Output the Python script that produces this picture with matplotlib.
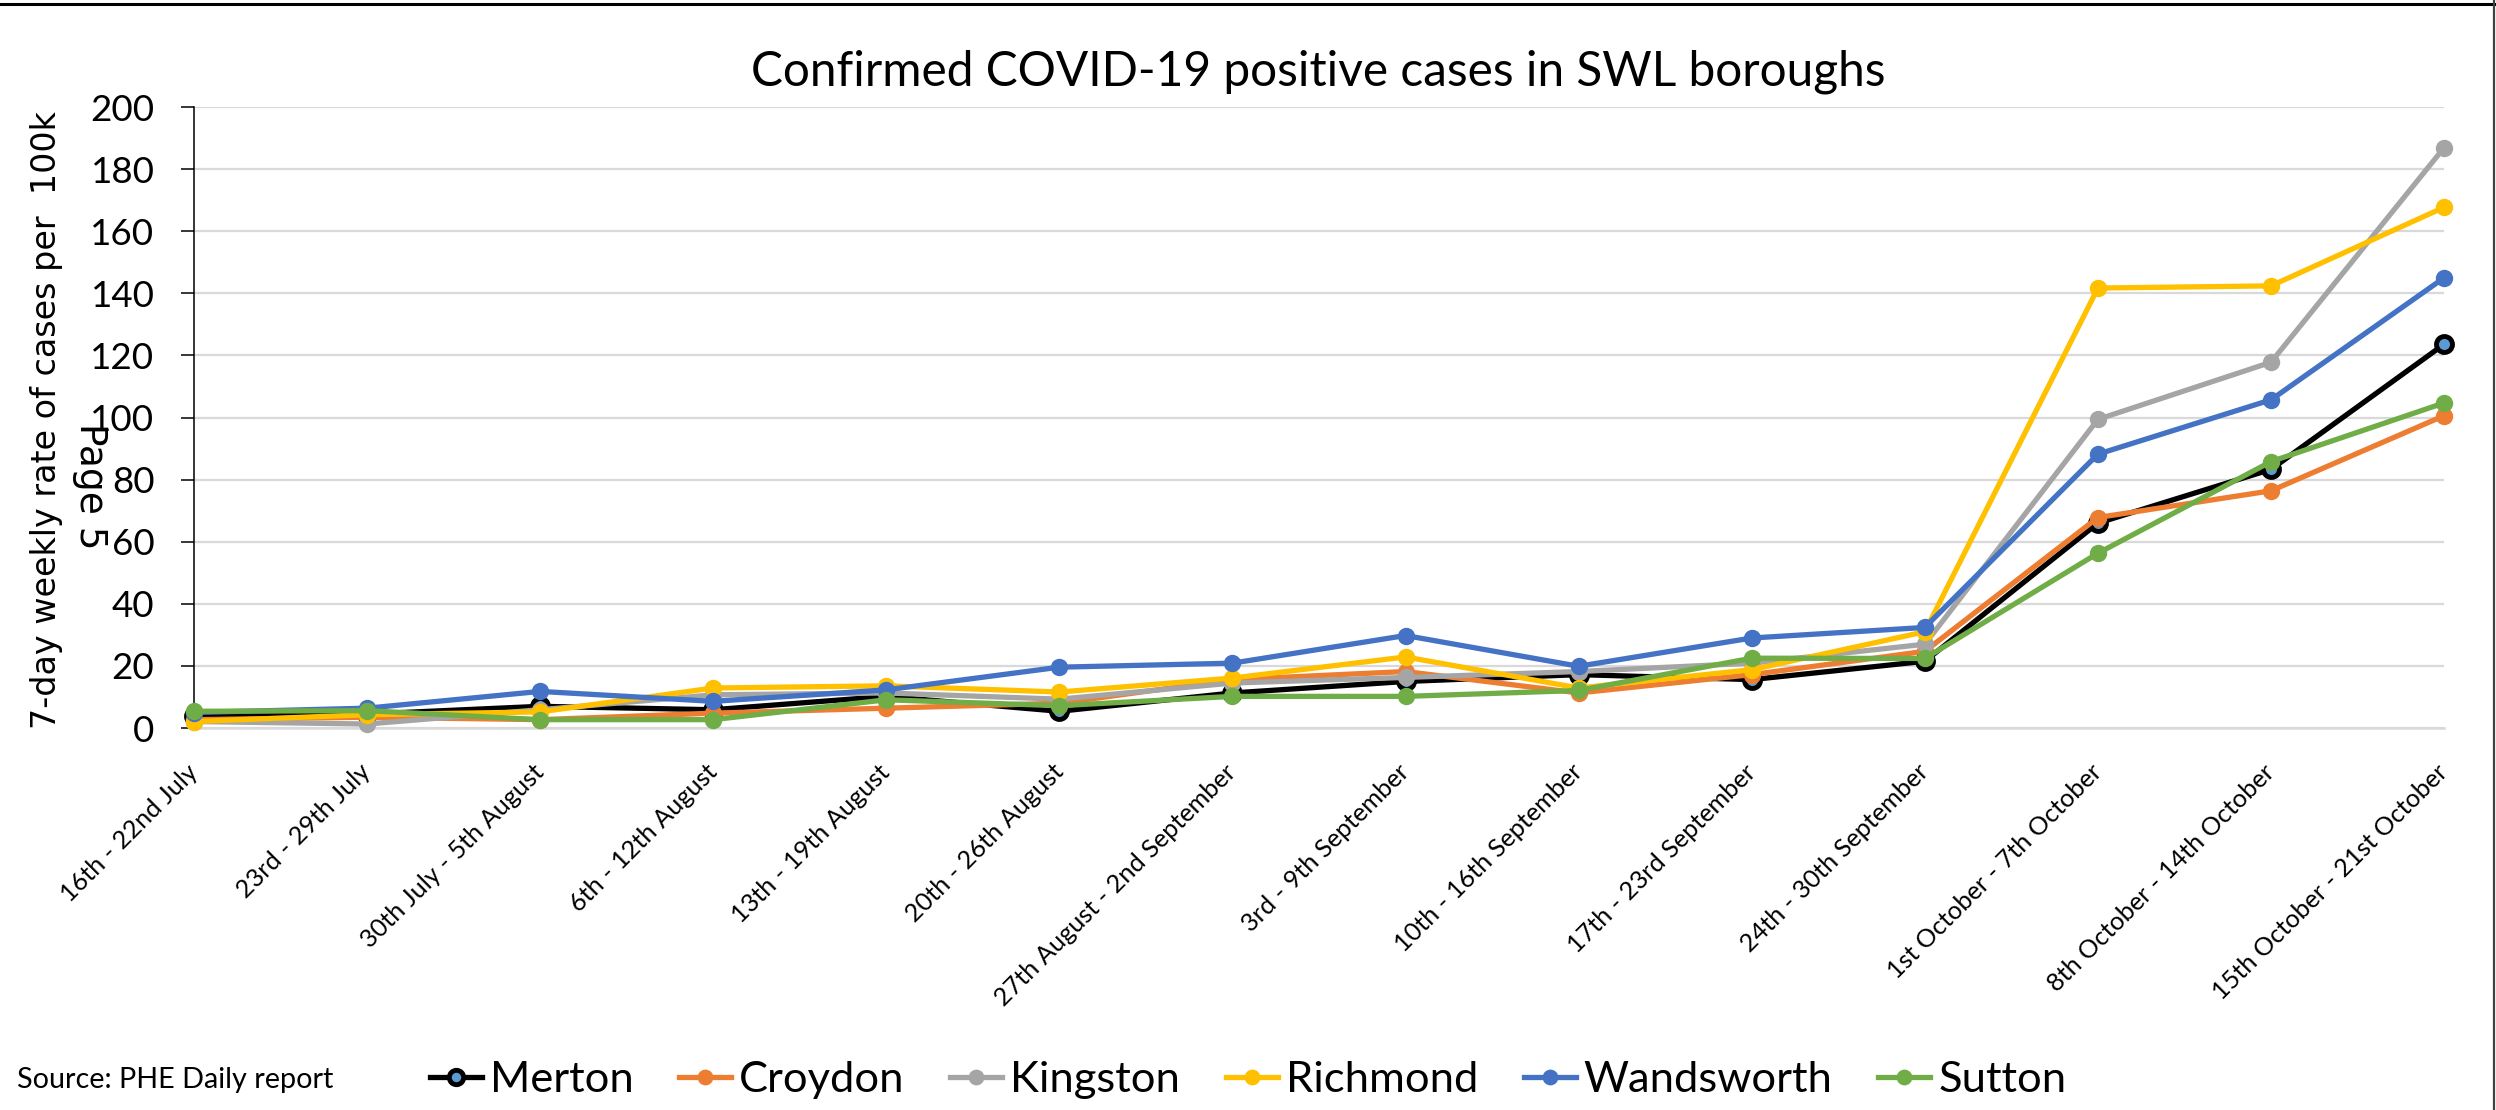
import matplotlib
matplotlib.use("Agg")
import matplotlib.pyplot as plt
from matplotlib.lines import Line2D

plt.rcParams['font.family'] = ['Lato', 'DejaVu Sans']

# weekly periods (x categories)
weeks = ["16th - 22nd July", "23rd - 29th July", "30th July - 5th August",
         "6th - 12th August", "13th - 19th August", "20th - 26th August",
         "27th August - 2nd September", "3rd - 9th September",
         "10th - 16th September", "17th - 23rd September",
         "24th - 30th September", "1st October - 7th October",
         "8th October - 14th October", "15th October - 21st October"]

# 7-day rate per 100k
merton = [3.8, 4.5, 7.0, 5.9, 10.2, 5.4, 11.3, 15.0, 17.2, 15.6, 21.5, 66.0, 83.3, 123.6]
croydon = [2.7, 3.5, 2.7, 4.8, 6.4, 8.0, 15.6, 18.2, 11.3, 17.2, 24.7, 67.8, 76.4, 100.6]
kingston = [2.1, 1.3, 5.9, 10.7, 11.3, 9.3, 14.5, 16.3, 18.2, 20.9, 27.0, 99.4, 117.8, 186.9]
richmond = [2.1, 4.3, 5.2, 12.9, 13.6, 11.6, 16.1, 22.9, 12.9, 18.8, 31.0, 141.7, 142.4, 167.7]
wandsworth = [5.0, 6.4, 11.8, 8.6, 12.3, 19.6, 20.9, 29.8, 19.9, 29.0, 32.4, 88.2, 105.7, 145.0]
sutton = [5.4, 5.6, 2.7, 2.7, 9.1, 7.2, 10.2, 10.2, 12.1, 22.5, 22.4, 56.3, 85.8, 104.7]

boroughs = ["Merton", "Croydon", "Kingston", "Richmond", "Wandsworth", "Sutton"]
series = [merton, croydon, kingston, richmond, wandsworth, sutton]
colors = ["#000000", "#ED7D31", "#A5A5A5", "#FFC000", "#4472C4", "#70AD47"]

fig = plt.figure(figsize=(24.96, 11.10), dpi=100)
ax = fig.add_axes([0.0777, 0.3441, 0.9015, 0.5595])

x = list(range(len(weeks)))
for name, vals, c in zip(boroughs, series, colors):
    if name == "Merton":
        ax.plot(x, vals, color=c, lw=3.8, marker='o', markersize=11.5,
                markerfacecolor="#5B9BD5", markeredgecolor="black",
                markeredgewidth=3.5, label=name, clip_on=False, zorder=3)
    else:
        ax.plot(x, vals, color=c, lw=3.8, marker='o', markersize=11.5,
                markerfacecolor=c, markeredgecolor=c, label=name,
                clip_on=False, zorder=3)

ax.set_xlim(0, len(weeks) - 1)
ax.set_ylim(0, 200)
ax.set_yticks(range(0, 201, 20))
ax.set_xticks(x)
ax.set_xticklabels(weeks, rotation=45, ha='right', va='center',
                   rotation_mode='anchor', fontsize=18.2)
ax.tick_params(axis='x', length=0, pad=29)
ax.tick_params(axis='y', length=9.4, width=1.1, pad=19, labelsize=26.5, direction='out')

ax.grid(axis='y', color='#D9D9D9', lw=1.6)
ax.set_axisbelow(True)
for s in ['top', 'right']:
    ax.spines[s].set_visible(False)
ax.spines['left'].set_color('black')
ax.spines['left'].set_linewidth(1.1)
ax.spines['bottom'].set_color('#D9D9D9')
ax.spines['bottom'].set_linewidth(1.8)

fig.text(0.528, 0.935, "Confirmed COVID-19 positive cases in SWL boroughs",
         ha='center', va='center', fontsize=34.4)
fig.text(0.0185, 0.622, "7-day weekly rate of cases per  100k", rotation=90,
         ha='center', va='center', fontsize=24, family='DejaVu Sans')
fig.text(0.0362, 0.562, "Page 5", rotation=-90, ha='center', va='center',
         fontsize=27, family='DejaVu Sans')

fig.text(0.0068, 0.027, "Source: PHE Daily report", ha='left', va='center', fontsize=20.7)
fig.legend(loc='center', bbox_to_anchor=(0.5, 0.027), ncol=6, frameon=False,
           fontsize=31.3, handlelength=1.2, handletextpad=0.18, columnspacing=1.05,
           markerscale=0.9)

# frame lines of the pasted image
fig.add_artist(Line2D([0, 1], [0.9965, 0.9965], color='black', lw=2.2, transform=fig.transFigure))
fig.add_artist(Line2D([0.9992, 0.9992], [0, 1], color='#404040', lw=1.6, transform=fig.transFigure))

plt.savefig("out.png", dpi=100)
